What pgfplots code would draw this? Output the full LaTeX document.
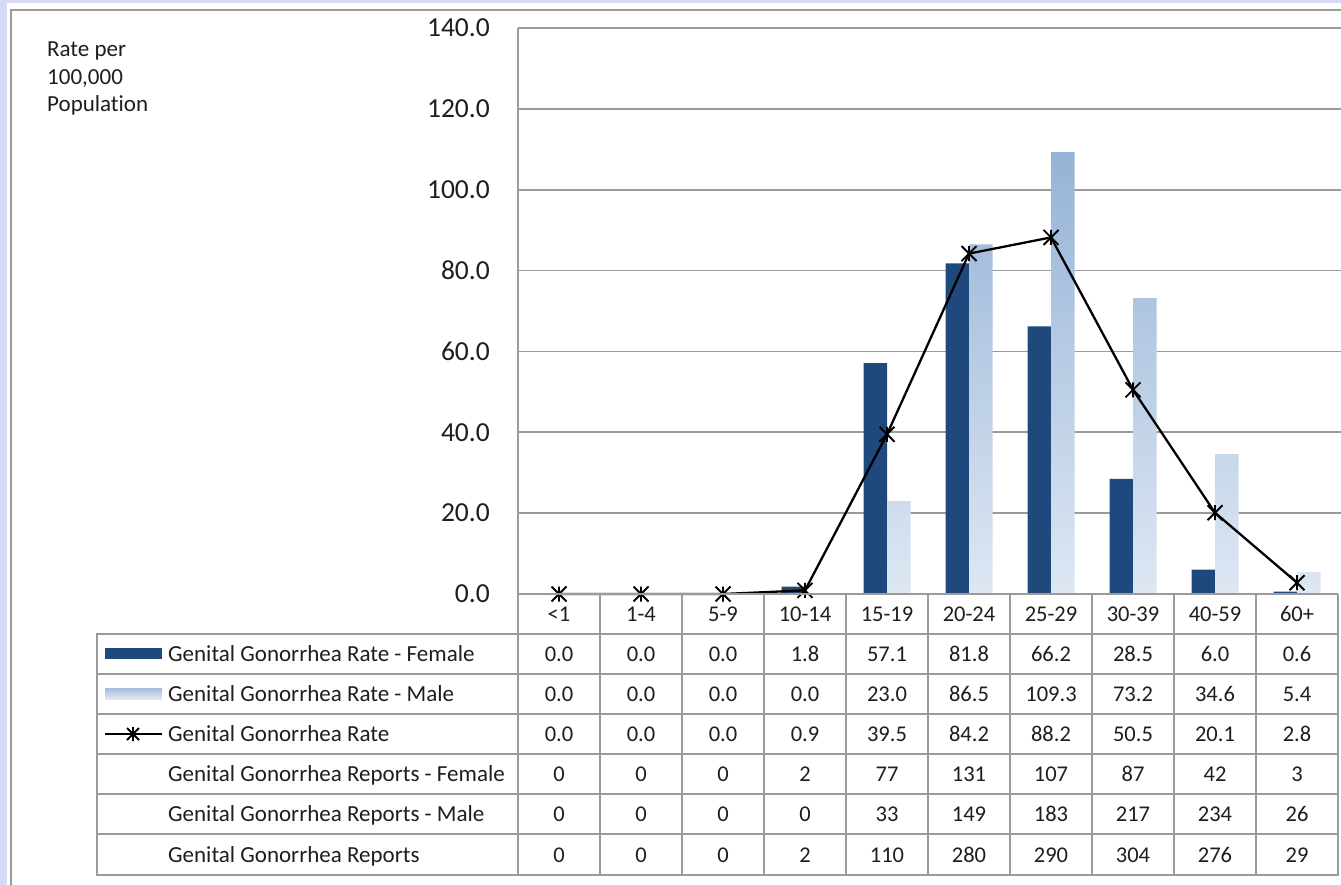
\documentclass[border=0pt]{standalone}
\usepackage{fontspec}
\setmainfont{Carlito}[Ligatures=NoCommon]
\usepackage{pgfplots}
\usepackage{pgfplotstable}
\pgfplotsset{compat=1.18}

\definecolor{femblue}{RGB}{31,73,125}
\definecolor{maletop}{RGB}{149,179,215}
\definecolor{malebot}{RGB}{222,231,243}
\definecolor{gridgray}{RGB}{155,155,155}
\definecolor{bglav}{RGB}{214,217,244}
\definecolor{txt}{RGB}{30,30,30}

\pgfdeclareplotmark{xstar}{%
  \pgfpathmoveto{\pgfqpoint{-\pgfplotmarksize}{-\pgfplotmarksize}}%
  \pgfpathlineto{\pgfqpoint{\pgfplotmarksize}{\pgfplotmarksize}}%
  \pgfpathmoveto{\pgfqpoint{-\pgfplotmarksize}{\pgfplotmarksize}}%
  \pgfpathlineto{\pgfqpoint{\pgfplotmarksize}{-\pgfplotmarksize}}%
  \pgfpathmoveto{\pgfqpoint{0pt}{-\pgfplotmarksize}}%
  \pgfpathlineto{\pgfqpoint{0pt}{\pgfplotmarksize}}%
  \pgfusepathqstroke}

\pgfplotstableread{
x female male rate repF repM rep
0 0.0 0.0 0.0 0 0 0
1 0.0 0.0 0.0 0 0 0
2 0.0 0.0 0.0 0 0 0
3 1.8 0.0 0.9 2 0 2
4 57.1 23.0 39.5 77 33 110
5 81.8 86.5 84.2 131 149 280
6 66.2 109.3 88.2 107 183 290
7 28.5 73.2 50.5 87 217 304
8 6.0 34.6 20.1 42 234 276
9 0.6 5.4 2.8 3 26 29
}\data

\begin{document}
\begin{tikzpicture}
\path[use as bounding box] (0pt,0pt) rectangle (1341pt,-885pt);
\begin{scope}[x=1pt,y=1pt]
\fill[bglav] (0,0) rectangle (1341,-885);
\fill[white] (7,-3) rectangle (1360,-900);
\draw[gridgray, line width=1.8pt] (11,-10) rectangle (1360,-900);
\node[anchor=base west, inner sep=0pt, text=txt, font=\fontsize{23}{27}\selectfont] at (47,-57) {Rate per};
\node[anchor=base west, inner sep=0pt, text=txt, font=\fontsize{23}{27}\selectfont] at (47,-84.5) {100,000};
\node[anchor=base west, inner sep=0pt, text=txt, font=\fontsize{23}{27}\selectfont] at (47,-112) {Population};
% grid extension to right edge
\foreach \yy in {28,108.9,189.7,270.6,351.4,432.3,513.1} {\draw[gridgray, line width=1.7pt] (1336,-\yy) -- (1341,-\yy);}
\end{scope}

\begin{axis}[
  at={(518pt,-594pt)}, anchor=south west,
  scale only axis, width=820pt, height=566pt,
  xmin=-0.5, xmax=9.5, ymin=0, ymax=140,
  xtick=\empty,
  ytick={0,20,40,60,80,100,120,140},
  ymajorgrids, grid style={gridgray, line width=1.7pt},
  axis line style={draw=none},
  major tick length=0pt,
  yticklabel style={font=\fontsize{27.5}{30}\selectfont, text=txt, anchor=east, inner sep=0pt, xshift=-28pt},
  yticklabel={\pgfmathprintnumber[fixed,fixed zerofill,precision=1,assume math mode=true]{\tick}},
  clip=false,
]
\addplot[ybar, bar width=23.5pt, bar shift=-11.75pt, fill=femblue, draw=none] table[x=x, y=female]{\data};
\addplot[ybar, bar width=23.5pt, bar shift=11.75pt, draw=none, top color=maletop, bottom color=malebot, restrict y to domain=0.01:1000] table[x=x, y=male]{\data};
\addplot[black, line width=2.3pt, mark=xstar, mark size=7.5pt, mark options={line width=1.9pt}] table[x=x, y=rate]{\data};
\end{axis}

\begin{scope}[x=1pt,y=1pt]
% table lines
\draw[gridgray, line width=1.8pt] (518,-28) -- (518,-875);
\draw[gridgray, line width=1.8pt] (97,-634) rectangle (1338,-875);
\foreach \yy in {674,714,754,794,834} {\draw[gridgray, line width=1.8pt] (97,-\yy) -- (1338,-\yy);}
\draw[gridgray, line width=1.8pt] (518,-594) -- (1338,-594);
\foreach \k in {1,...,10} {\draw[gridgray, line width=1.8pt] ({518+82*\k},-594) -- ({518+82*\k},-875);}
% categories
\foreach \c [count=\n from 0] in {{<1},1-4,5-9,10-14,15-19,20-24,25-29,30-39,40-59,60+} {
  \node[anchor=base, inner sep=0pt, text=txt, font=\fontsize{22.5}{27}\selectfont] at ({559+82*\n},-621.5) {\c};
}
% row labels
\tikzset{rowlab/.style={anchor=base west, inner sep=0pt, text=txt, font=\fontsize{23}{27}\selectfont}}
\node[rowlab] at (168,-661.5) {Genital Gonorrhea Rate - Female};
\node[rowlab] at (168,-701.5) {Genital Gonorrhea Rate - Male};
\node[rowlab] at (168,-741.5) {Genital Gonorrhea Rate};
\node[rowlab] at (168,-781.5) {Genital Gonorrhea Reports - Female};
\node[rowlab] at (168,-821.5) {Genital Gonorrhea Reports - Male};
\node[rowlab] at (168,-862) {Genital Gonorrhea Reports};
% legend keys
\fill[femblue] (105,-648) rectangle (162,-659);
\shade[top color=maletop!85, bottom color=malebot] (105,-688) rectangle (162,-699);
\draw[black, line width=2.3pt] (105,-734) -- (162,-734);
\draw[black, line width=1.9pt] (127,-728) -- (139,-740) (127,-740) -- (139,-728) (133,-727) -- (133,-741);
% cell values
\tikzset{cell/.style={anchor=base, inner sep=0pt, text=txt, font=\fontsize{22.5}{27}\selectfont}}
\foreach \i in {0,...,9} {
  \pgfplotstablegetelem{\i}{female}\of\data
  \node[cell] at ({559+82*\i},-661.5) {\pgfplotsretval};
  \pgfplotstablegetelem{\i}{male}\of\data
  \node[cell] at ({559+82*\i},-701.5) {\pgfplotsretval};
  \pgfplotstablegetelem{\i}{rate}\of\data
  \node[cell] at ({559+82*\i},-741.5) {\pgfplotsretval};
  \pgfplotstablegetelem{\i}{repF}\of\data
  \node[cell] at ({559+82*\i},-781.5) {\pgfplotsretval};
  \pgfplotstablegetelem{\i}{repM}\of\data
  \node[cell] at ({559+82*\i},-821.5) {\pgfplotsretval};
  \pgfplotstablegetelem{\i}{rep}\of\data
  \node[cell] at ({559+82*\i},-862) {\pgfplotsretval};
}
\end{scope}
\end{tikzpicture}
\end{document}
